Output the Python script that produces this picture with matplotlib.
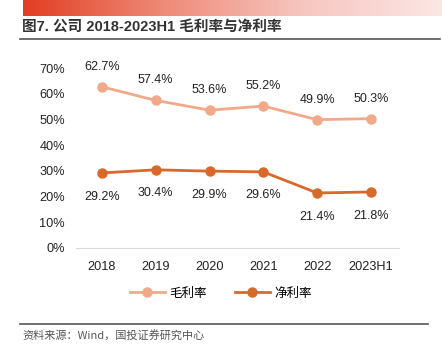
import numpy as np
import matplotlib
matplotlib.use("Agg")
import matplotlib.pyplot as plt
from matplotlib.colors import LinearSegmentedColormap

plt.rcParams['font.family'] = ['Liberation Sans', 'Noto Sans CJK SC', 'DejaVu Sans']

# 数据
years = ['2018', '2019', '2020', '2021', '2022', '2023H1']
gross = [62.7, 57.4, 53.6, 55.2, 49.9, 50.3]
net = [29.2, 30.4, 29.9, 29.6, 21.4, 21.8]
yticks = [0, 10, 20, 30, 40, 50, 60, 70]

c_gross = '#F2A98A'
c_net = '#D9692B'

fig = plt.figure(figsize=(4.42, 3.58), dpi=100)

# 顶部渐变条
bar = fig.add_axes([23 / 442, 1 - 16 / 358, 419 / 442, 16 / 358])
cmap = LinearSegmentedColormap.from_list('g', ['#E23D22', '#EE8A78', '#F6C6C0', '#FBE6E4'])
bar.imshow(np.linspace(0, 1, 256)[None, :], aspect='auto', cmap=cmap)
bar.axis('off')

# 标题
fig.text(22 / 442, 1 - 27 / 358, '图7. 公司 2018-2023H1 毛利率与净利率', fontsize=10.5,
         fontweight='bold', color='#333333', va='center',
         family=['Liberation Sans', 'Noto Sans CJK SC'])
fig.add_artist(plt.Line2D([20 / 442, 440 / 442], [1 - 38.5 / 358] * 2, color='#555555', lw=1.2))

ax = fig.add_axes([76 / 442, 1 - 248 / 358, 323 / 442, 180 / 358])
x = np.arange(len(years))
ax.plot(x, gross, color=c_gross, lw=2, marker='o', ms=6.5, label='毛利率')
ax.plot(x, net, color=c_net, lw=2, marker='o', ms=6.5, label='净利率')

for i in range(len(years)):
    ax.annotate(f'{gross[i]:.1f}%', (x[i], gross[i]), xytext=(0, 14.5), textcoords='offset points',
                ha='center', va='center', fontsize=9, color='#222222')
    ax.annotate(f'{net[i]:.1f}%', (x[i], net[i]), xytext=(0, -17), textcoords='offset points',
                ha='center', va='center', fontsize=9, color='#222222')

ax.set_xlim(-0.48, 5.52)
ax.set_ylim(0, 70)
ax.set_yticks(yticks)
ax.set_yticklabels([f'{v}%' for v in yticks])
ax.set_xticks(x)
ax.set_xticklabels(years)
ax.tick_params(axis='both', length=0, labelsize=9.2, colors='#222222')
ax.tick_params(axis='x', pad=9)
ax.tick_params(axis='y', pad=8)
for s in ['top', 'right', 'left']:
    ax.spines[s].set_visible(False)
ax.spines['bottom'].set_color('#D9D9D9')

leg = fig.legend(loc='center', bbox_to_anchor=(0.5, 1 - 293 / 358), ncol=2, frameon=False,
                 handlelength=2.8, columnspacing=2.2, handletextpad=0.4,
                 prop={'family': ['Noto Sans CJK SC'], 'size': 9})

fig.add_artist(plt.Line2D([20 / 442, 428 / 442], [1 - 324 / 358] * 2, color='#555555', lw=1.2))
fig.text(22 / 442, 1 - 335 / 358, '资料来源：Wind，国投证券研究中心', fontsize=8, color='#555555',
         va='center', style='italic', family=['Noto Sans CJK SC'])

fig.savefig('out.png', dpi=100)
